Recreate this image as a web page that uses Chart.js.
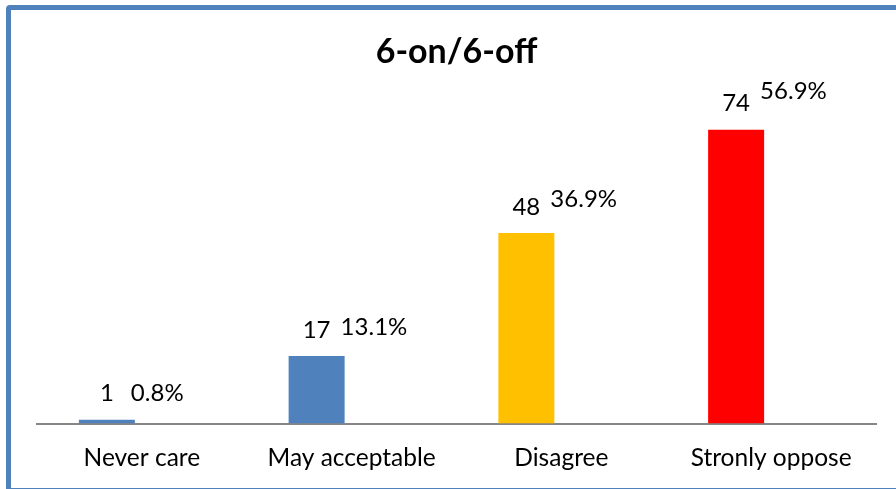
<!DOCTYPE html>
<html lang="en">
<head>
<meta charset="UTF-8">
<title>6-on/6-off</title>
<style>
    html, body {
        margin: 0;
        padding: 0;
        background: #ffffff;
        overflow: hidden;
    }
    #chart-wrap {
        position: relative;
        width: 896px;
        height: 489px;
        overflow: hidden;
    }
    /* chart frame, its right side runs off the picture */
    #chart-frame {
        position: absolute;
        left: 6px;
        top: 5px;
        width: 1000px;
        height: 478px;
        border: 5px solid #4F81BD;
        border-radius: 4px;
    }
    #chart-canvas {
        position: absolute;
        left: 0;
        top: 0;
    }
</style>
</head>
<body>
<div id="chart-wrap">
    <div id="chart-frame"></div>
    <canvas id="chart-canvas" width="896" height="493"></canvas>
</div>

<script src="https://cdn.jsdelivr.net/npm/chart.js"></script>
<script>
    const chartTitle = '6-on/6-off';
    const categories = ['Never care', 'May acceptable', 'Disagree', 'Stronly oppose'];
    const counts = [1, 17, 48, 74];
    const percents = [0.8, 13.1, 36.9, 56.9];
    const barColors = ['#4F81BD', '#4F81BD', '#FFC000', '#FF0000'];

    const fontFamily = 'Lato, "Open Sans", sans-serif';

    // draws "count" above each bar and "pct%" next to it
    const barLabelsPlugin = {
        id: 'barLabels',
        afterDatasetsDraw(chart) {
            const ctx = chart.ctx;
            const countMeta = chart.getDatasetMeta(0);
            const pctMeta = chart.getDatasetMeta(1);
            ctx.save();
            ctx.fillStyle = '#000000';
            ctx.font = '24px ' + fontFamily;
            ctx.textBaseline = 'middle';
            countMeta.data.forEach((bar, i) => {
                ctx.textAlign = 'center';
                ctx.fillText(String(counts[i]), bar.x, bar.y - 26);
                const pctBar = pctMeta.data[i];
                ctx.textAlign = 'left';
                ctx.fillText(percents[i].toFixed(1) + '%', bar.x + 24, pctBar.y - 26);
            });
            ctx.restore();
        }
    };

    const ctx = document.getElementById('chart-canvas').getContext('2d');
    new Chart(ctx, {
        type: 'bar',
        data: {
            labels: categories,
            datasets: [{
                label: 'Count',
                data: counts,
                backgroundColor: barColors,
                borderWidth: 0,
                yAxisID: 'y',
                categoryPercentage: 0.6675,
                barPercentage: 0.8
            }, {
                label: 'Percent',
                data: percents,
                backgroundColor: 'rgba(0,0,0,0)',
                borderWidth: 0,
                yAxisID: 'y2',
                categoryPercentage: 0.6675,
                barPercentage: 0.8
            }]
        },
        options: {
            responsive: false,
            animation: false,
            layout: {
                padding: { left: 37, right: 20, top: 0, bottom: 0 }
            },
            scales: {
                x: {
                    grid: { display: false, drawTicks: false },
                    border: { display: true, color: '#868686', width: 2 },
                    ticks: {
                        color: '#000000',
                        padding: 20,
                        font: { family: fontFamily, size: 24.5 }
                    }
                },
                y: {
                    display: false,
                    min: 0,
                    max: 80
                },
                y2: {
                    display: false,
                    min: 0,
                    max: 59
                }
            },
            plugins: {
                legend: { display: false },
                tooltip: { enabled: false },
                title: {
                    display: true,
                    text: chartTitle,
                    color: '#000000',
                    font: { family: fontFamily, size: 34, weight: 'bold' },
                    padding: { top: 31.5, bottom: 33.5 }
                }
            }
        },
        plugins: [barLabelsPlugin]
    });
</script>
</body>
</html>
